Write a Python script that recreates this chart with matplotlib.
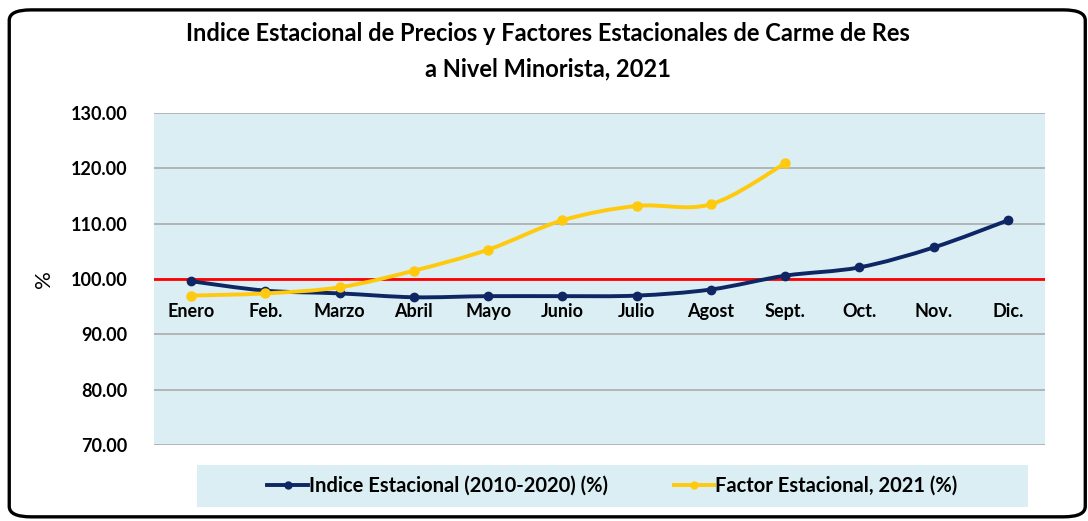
import numpy as np
import matplotlib
matplotlib.use("Agg")
import matplotlib.pyplot as plt
from matplotlib.path import Path
from matplotlib.patches import PathPatch, FancyBboxPatch, Rectangle
from matplotlib.lines import Line2D

plt.rcParams['font.family'] = ['Lato', 'DejaVu Sans']
plt.rcParams['font.weight'] = 'bold'

meses = ['Enero', 'Feb.', 'Marzo', 'Abril', 'Mayo', 'Junio', 'Julio',
         'Agost', 'Sept.', 'Oct.', 'Nov.', 'Dic.']
indice = [99.6, 97.9, 97.4, 96.7, 96.9, 96.9, 97.0, 98.1, 100.6, 102.1, 105.7, 110.6]
factor = [97.0, 97.4, 98.5, 101.5, 105.3, 110.6, 113.2, 113.5, 120.9]
yticks = [70, 80, 90, 100, 110, 120, 130]

azul = '#0E2663'
amarillo = '#FFC90E'
fondo = '#DAEEF3'


def curva_suave(x, y):
    # bezier tipo catmull-rom, como la linea suavizada de excel
    p = np.column_stack([x, y]).astype(float)
    verts = [p[0]]
    codes = [Path.MOVETO]
    n = len(p)
    for i in range(n - 1):
        p0 = p[i - 1] if i > 0 else p[i]
        p3 = p[i + 2] if i + 2 < n else p[i + 1]
        c1 = p[i] + (p[i + 1] - p0) / 6.0
        c2 = p[i + 1] - (p3 - p[i]) / 6.0
        verts += [c1, c2, p[i + 1]]
        codes += [Path.CURVE4] * 3
    return Path(verts, codes)


fig = plt.figure(figsize=(10.88, 5.21), dpi=100)
ax = fig.add_axes([0.1415, 0.1459, 0.819, 0.6372])
ax.set_facecolor(fondo)

ax.set_xlim(-0.5, 11.5)
ax.set_ylim(70, 130)
ax.set_yticks(yticks)
ax.set_yticklabels(['%.2f' % v for v in yticks])
ax.yaxis.grid(True, color='#A6A6A6', linewidth=1.1)
ax.set_axisbelow(True)
ax.tick_params(axis='y', length=0, pad=19, labelsize=13)

ax.set_xticks(range(len(meses)))
ax.set_xticklabels(meses)
ax.spines['bottom'].set_position(('data', 100))
ax.tick_params(axis='x', length=0, pad=17, labelsize=13)
for s in ['top', 'right', 'left', 'bottom']:
    ax.spines[s].set_visible(False)

ax.axhline(100, color='#FF0000', linewidth=2, zorder=2)

xi = np.arange(len(indice))
xf = np.arange(len(factor))
ax.add_patch(PathPatch(curva_suave(xi, indice), fill=False, edgecolor=azul,
                       linewidth=2.8, capstyle='round', zorder=3))
ax.plot(xi, indice, 'o', color=azul, markersize=6, zorder=4)
ax.add_patch(PathPatch(curva_suave(xf, factor), fill=False, edgecolor=amarillo,
                       linewidth=2.8, capstyle='round', zorder=5))
ax.plot(xf, factor, 'o', color=amarillo, markersize=6.5, zorder=6)

ax.set_ylabel('%', fontsize=16, labelpad=12)

fig.text(0.504, 0.935, 'Indice Estacional de Precios y Factores Estacionales de Carme de Res',
         ha='center', va='center', fontsize=17)
fig.text(0.504, 0.868, 'a Nivel Minorista, 2021', ha='center', va='center', fontsize=17)

# cuadro de la leyenda
fig.patches.append(Rectangle((197 / 1088, 1 - 507 / 521), 831 / 1088, 42 / 521,
                             transform=fig.transFigure, facecolor=fondo,
                             edgecolor='none', zorder=0))
handles = [Line2D([], [], color=azul, linewidth=2.8, marker='o', markersize=5),
           Line2D([], [], color=amarillo, linewidth=2.8, marker='o', markersize=5)]
fig.legend(handles, ['Indice Estacional (2010-2020) (%)', 'Factor Estacional, 2021 (%)'],
           loc='center', bbox_to_anchor=(0.563, 0.067), ncol=2, frameon=False,
           fontsize=14.5, handlelength=2.0, handletextpad=0.05, columnspacing=3.3,
           markerfirst=True)

# marco redondeado
fig.patches.append(FancyBboxPatch((0.0085, 0.008), 0.989, 0.973,
                                  boxstyle='round,pad=0,rounding_size=0.02',
                                  transform=fig.transFigure, facecolor='none',
                                  edgecolor='black', linewidth=2.4, zorder=10))

fig.savefig('out.png', dpi=100)
